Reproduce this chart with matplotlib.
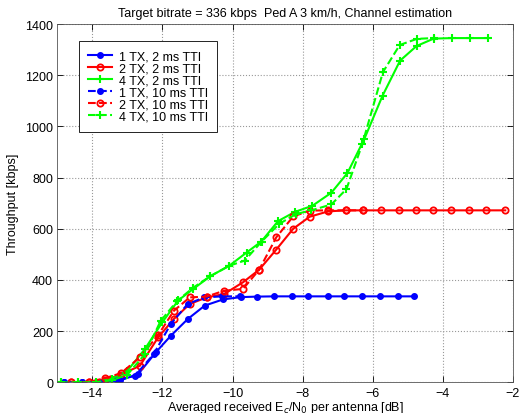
import numpy as np
import matplotlib
matplotlib.use('Agg')
import matplotlib.pyplot as plt

plt.rcParams['font.family'] = ['Liberation Sans', 'DejaVu Sans']

# 1 TX
x_1tx_2ms = [-14.8, -14.3, -13.75, -13.2, -12.69, -12.19, -11.76, -11.28, -10.79, -10.27, -9.77,
             -9.30, -8.81, -8.31, -7.85, -7.28, -6.82, -6.31, -5.80, -5.28, -4.81]
y_1tx_2ms = [0, 0, 1, 8, 32, 117, 182, 247, 300, 324, 333, 335, 336, 336, 336, 336, 336, 336, 336, 336, 336]
x_1tx_10ms = [-14.8, -14.3, -13.8, -13.3, -12.78, -12.25, -11.76, -11.28, -10.8, -10.3, -9.8]
y_1tx_10ms = [0, 0, 1, 8, 26, 110, 228, 306, 332, 336, 336]

# 2 TX
x_2tx_2ms = [-14.6, -14.1, -13.64, -13.18, -12.64, -12.12, -11.67, -11.22, -10.74, -10.24, -9.7,
             -9.24, -8.75, -8.27, -7.8, -7.27, -6.77, -6.28, -5.76, -5.26, -4.77, -4.28, -3.76,
             -3.26, -2.76, -2.22]
y_2tx_2ms = [0, 2, 10, 30, 65, 176, 248, 306, 332, 345, 391, 440, 519, 600, 647, 668, 672, 672,
             672, 672, 672, 672, 672, 672, 672, 672]
x_2tx_10ms = [-14.6, -14.1, -13.64, -13.18, -12.64, -12.12, -11.67, -11.22, -10.74, -10.24, -9.7,
              -9.24, -8.75, -8.27, -7.8, -7.27, -6.77, -6.28]
y_2tx_10ms = [0, 2, 16, 36, 98, 185, 280, 332, 335, 358, 365, 440, 567, 648, 671, 672, 672, 672]

# 4 TX
x_4tx_2ms = [-14.9, -14.4, -13.9, -13.45, -13.0, -12.5, -12.0, -11.55, -11.12, -10.63, -10.1, -9.6,
             -9.18, -8.7, -8.22, -7.72, -7.18, -6.72, -6.24, -5.72, -5.22, -4.75, -4.26, -3.73,
             -3.24, -2.72]
y_4tx_2ms = [0, 0, 3, 15, 45, 130, 235, 320, 365, 415, 455, 507, 550, 630, 666, 690, 741, 818, 951,
             1120, 1257, 1314, 1343, 1345, 1345, 1345]
x_4tx_10ms = [-14.9, -14.4, -13.9, -13.45, -13.0, -12.5, -12.05, -11.58, -11.12, -10.63, -10.1,
              -9.65, -9.17, -8.67, -8.18, -7.75, -7.18, -6.75, -6.3, -5.71, -5.23, -4.74, -4.26]
y_4tx_10ms = [0, 0, 1, 8, 30, 110, 240, 318, 370, 415, 455, 476, 550, 619, 658, 672, 695, 755, 930,
              1212, 1318, 1342, 1345]

fig = plt.figure(figsize=(5.2, 4.14), dpi=100)
ax = fig.add_axes([0.110, 0.074, 0.8765, 0.8656])

lw = 1.5
ax.plot(x_1tx_2ms, y_1tx_2ms, '-', color='b', marker='.', ms=8, lw=lw, label='1 TX, 2 ms TTI')
ax.plot(x_2tx_2ms, y_2tx_2ms, '-', color='r', marker='o', ms=4.5, mfc='none', mew=1.3, lw=lw, label='2 TX, 2 ms TTI')
ax.plot(x_4tx_2ms, y_4tx_2ms, '-', color='#00ff00', marker='+', ms=6, mew=1.5, lw=lw, label='4 TX, 2 ms TTI')
ax.plot(x_1tx_10ms, y_1tx_10ms, '--', color='b', marker='.', ms=8, lw=lw, label='1 TX, 10 ms TTI')
ax.plot(x_2tx_10ms, y_2tx_10ms, '--', color='r', marker='o', ms=4.5, mfc='none', mew=1.3, lw=lw, label='2 TX, 10 ms TTI')
ax.plot(x_4tx_10ms, y_4tx_10ms, '--', color='#00ff00', marker='+', ms=6, mew=1.5, lw=lw, label='4 TX, 10 ms TTI')

ax.set_xlim(-15, -2)
ax.set_ylim(0, 1400)
ax.set_xticks(np.arange(-14, -1, 2))
ax.set_yticks(np.arange(0, 1401, 200))
ax.grid(True, linestyle=':', color='#999999', linewidth=0.8)
ax.tick_params(direction='in', top=True, right=True, labelsize=9, length=4, width=0.6, pad=3)
for s in ax.spines.values():
    s.set_linewidth(0.6)
    s.set_color('#555555')

ax.set_title('Target bitrate = 336 kbps  Ped A 3 km/h, Channel estimation', fontsize=9, pad=6)
ax.set_xlabel('Averaged received E$_c$/N$_0$ per antenna [dB]', fontsize=9, labelpad=0)
ax.set_ylabel('Throughput [kbps]', fontsize=9, labelpad=4)

leg = ax.legend(loc='upper left', bbox_to_anchor=(0.047, 0.953), borderaxespad=0, fontsize=9,
                labelspacing=0.0, handlelength=1.9, handletextpad=0.55, fancybox=False,
                framealpha=1, borderpad=0.75)
leg.get_frame().set_edgecolor('black')
leg.get_frame().set_linewidth(0.6)

fig.savefig('out.png', dpi=100)
